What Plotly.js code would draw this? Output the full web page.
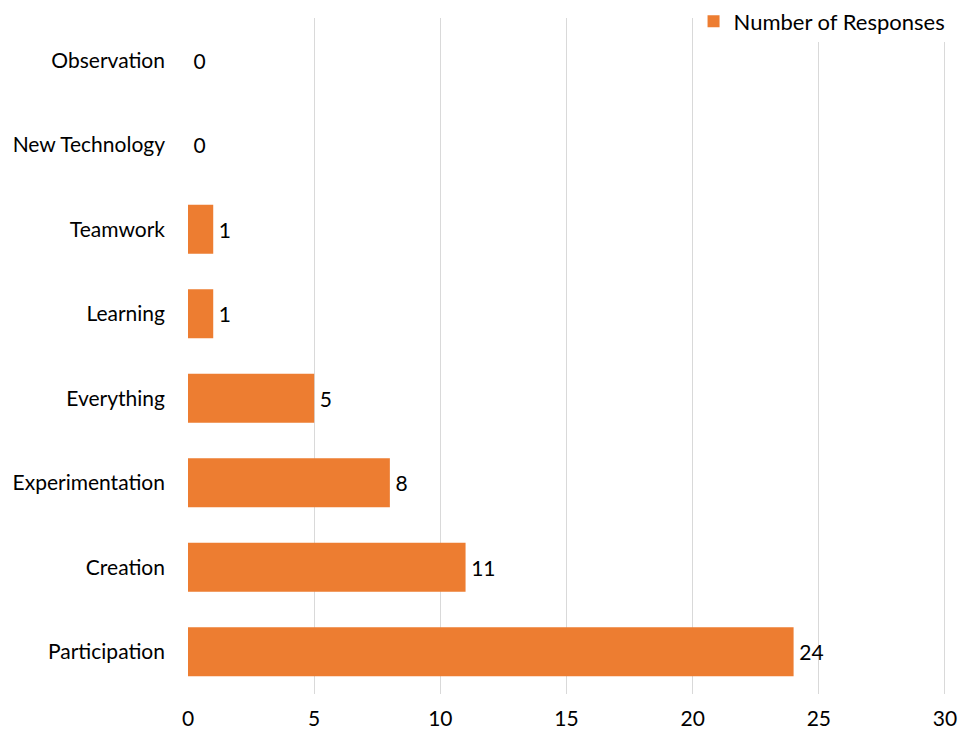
<!DOCTYPE html>
<html>
<head>
<meta charset="utf-8">
<script src="https://cdn.plot.ly/plotly-3.0.1.min.js"></script>
<style>
html,body{margin:0;padding:0;background:#fff;}
#chart{width:961px;height:732px;}
</style>
</head>
<body>
<div id="chart"></div>
<script>
const categories = ["Participation","Creation","Experimentation","Everything","Learning","Teamwork","New Technology","Observation"];
const responses = [24, 11, 8, 5, 1, 1, 0, 0];
const seriesName = "Number of Responses";
const xTicks = [0, 5, 10, 15, 20, 25, 30];

const FONT = "Lato, 'Open Sans', sans-serif";
const FS = 21;

const trace = {
  type: "bar",
  orientation: "h",
  y: categories,
  x: responses,
  name: seriesName,
  marker: {color: "#ED7D31"},
  text: responses.map(String),
  texttemplate: "\u2009%{text}",
  textposition: "outside",
  textfont: {family: FONT, size: FS, color: "#000"},
  cliponaxis: false,
  showlegend: true
};

const layout = {
  width: 961,
  height: 732,
  margin: {l: 188, r: 15, t: 18, b: 38, autoexpand: false},
  paper_bgcolor: "#fff",
  plot_bgcolor: "#fff",
  font: {family: FONT, size: FS, color: "#000"},
  bargap: 0.42,
  showlegend: true,
  legend: {
    x: 1.006, xanchor: "right", y: 0.995, yanchor: "middle",
    bgcolor: "rgba(255,255,255,1)",
    font: {family: FONT, size: 22, color: "#000"},
    itemwidth: 30,
    tracegroupgap: 0
  },
  xaxis: {
    range: [0, 30.04],
    tickvals: xTicks,
    ticktext: xTicks.map(String),
    showgrid: true,
    gridcolor: "#d9d9d9",
    gridwidth: 1,
    zeroline: false,
    showline: false,
    ticks: "",
    ticklabelstandoff: 10,
    tickfont: {family: FONT, size: FS, color: "#000"},
    fixedrange: true
  },
  yaxis: {
    type: "category",
    categoryorder: "array",
    categoryarray: categories,
    showgrid: false,
    zeroline: false,
    showline: false,
    ticks: "",
    ticklabelstandoff: 22,
    tickfont: {family: FONT, size: FS, color: "#000"},
    fixedrange: true
  }
};

Plotly.newPlot("chart", [trace], layout, {displayModeBar: false, staticPlot: true});
</script>
</body>
</html>
